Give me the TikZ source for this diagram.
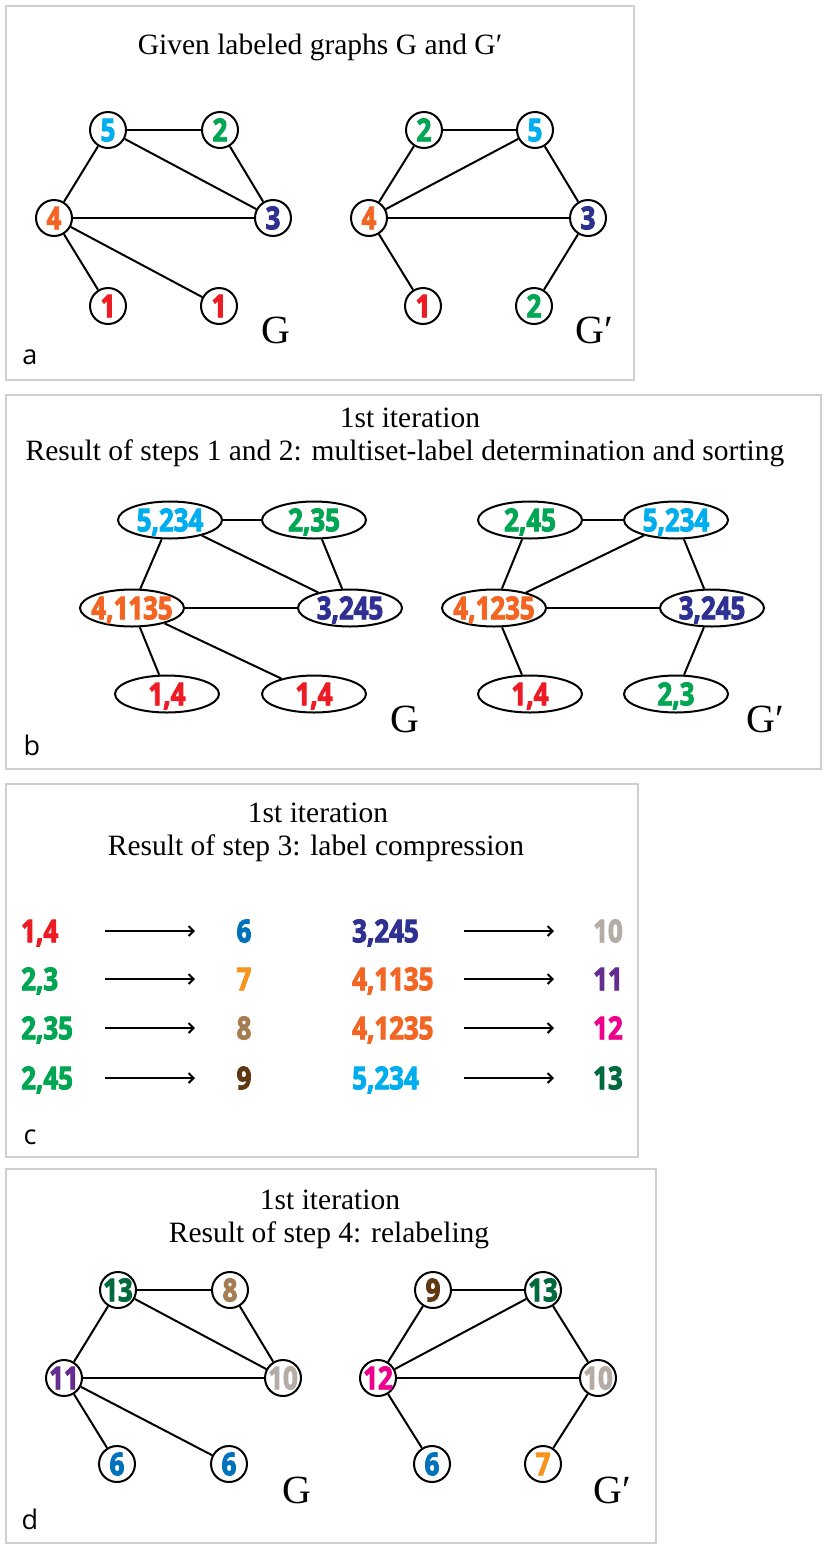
\documentclass[tikz,border=0pt]{standalone}
\usepackage{fontspec}
\setmainfont{Liberation Serif}
\newfontfamily\numf[FakeStretch=0.82,FakeBold=3]{Open Sans}
\newfontfamily\panelf{Open Sans}
\usetikzlibrary{shapes.geometric,arrows.meta}
\definecolor{framegray}{HTML}{CFCFCF}
\definecolor{cA}{HTML}{ED1C24}
\definecolor{cB}{HTML}{00A651}
\definecolor{cC}{HTML}{2E3192}
\definecolor{cD}{HTML}{F26522}
\definecolor{cE}{HTML}{00AEEF}
\definecolor{cF}{HTML}{0072BC}
\definecolor{cG}{HTML}{F7941D}
\definecolor{cH}{HTML}{A67C52}
\definecolor{cI}{HTML}{603913}
\definecolor{cJ}{HTML}{B5ADA5}
\definecolor{cK}{HTML}{662D91}
\definecolor{cL}{HTML}{EC008C}
\definecolor{cM}{HTML}{00693E}
\tikzset{
  frame/.style={draw=framegray, line width=2pt},
  ttl/.style={font=\fontsize{29.5}{34}\selectfont, inner sep=0},
  glabel/.style={font=\fontsize{40}{46}\selectfont, inner sep=0},
  plabel/.style={font=\panelf\fontsize{27}{30}\selectfont, inner sep=0},
  vtx/.style={circle, draw, line width=2pt, minimum size=36pt, inner sep=0},
  evtx/.style={ellipse, draw, line width=2pt, minimum width=104pt, minimum height=37pt, inner sep=0},
  num/.style={font=\numf\bfseries\fontsize{31.5}{36}\selectfont, inner sep=0, text height=22.5pt, text depth=0pt},
  edge/.style={line width=2pt},
  arr/.style={line width=2pt, -{Straight Barb[length=5pt,width=10pt,line width=2pt]}},
}
\begin{document}
\begin{tikzpicture}[x=1pt,y=-1pt]
\useasboundingbox (0,0) rectangle (828,1553);
\fill[white] (0,0) rectangle (828,1553);
% ---------- panel a ----------
\draw[frame] (6,6) rectangle (634,380);
\node[ttl] (ta) at (320,47) {Given labeled graphs G and G′};
\node[vtx, label={[num,text=cE]center:5}] (a5) at (108,130) {};
\node[vtx, label={[num,text=cB]center:2}] (a2) at (220,130) {};
\node[vtx, label={[num,text=cD]center:4}] (a4) at (54,218) {};
\node[vtx, label={[num,text=cC]center:3}] (a3) at (273,218) {};
\node[vtx, label={[num,text=cA]center:1}] (a1) at (108,306) {};
\node[vtx, label={[num,text=cA]center:1}] (a1b) at (219,306) {};
\draw[edge] (a5) -- (a2); \draw[edge] (a5) -- (a4); \draw[edge] (a5) -- (a3);
\draw[edge] (a2) -- (a3); \draw[edge] (a4) -- (a3); \draw[edge] (a4) -- (a1);
\draw[edge] (a4) -- (a1b);
\node[glabel] (aG) at (276,330) {G};
\node[vtx, label={[num,text=cB]center:2}] (p2) at (424,130) {};
\node[vtx, label={[num,text=cE]center:5}] (p5) at (535,130) {};
\node[vtx, label={[num,text=cD]center:4}] (p4) at (369,218) {};
\node[vtx, label={[num,text=cC]center:3}] (p3) at (588,218) {};
\node[vtx, label={[num,text=cA]center:1}] (p1) at (423,306) {};
\node[vtx, label={[num,text=cB]center:2}] (p2b) at (534,306) {};
\draw[edge] (p2) -- (p5); \draw[edge] (p2) -- (p4); \draw[edge] (p5) -- (p4);
\draw[edge] (p5) -- (p3); \draw[edge] (p4) -- (p3); \draw[edge] (p4) -- (p1);
\draw[edge] (p3) -- (p2b);
\node[glabel] (aGp) at (594,330) {G′};
\node[plabel] (la) at (30,357) {a};
% ---------- panel b ----------
\draw[frame] (6,395) rectangle (821,769);
\node[ttl] (tb1) at (410,418) {1st iteration};
\node[ttl] (tb2) at (405,453) {Result of steps 1 and 2: multiset-label determination and sorting};
\node[evtx, label={[num,text=cE]center:5,234}] (b5) at (170,520) {};
\node[evtx, label={[num,text=cB]center:2,35}] (b2) at (314,520) {};
\node[evtx, label={[num,text=cD]center:4,1135}] (b4) at (132,608) {};
\node[evtx, label={[num,text=cC]center:3,245}] (b3) at (350,608) {};
\node[evtx, label={[num,text=cA]center:1,4}] (b1) at (167,694) {};
\node[evtx, label={[num,text=cA]center:1,4}] (b1b) at (314,694) {};
\draw[edge] (b5) -- (b2); \draw[edge] (b5) -- (b4); \draw[edge] (b5) -- (b3);
\draw[edge] (b2) -- (b3); \draw[edge] (b4) -- (b3); \draw[edge] (b4) -- (b1);
\draw[edge] (b4) -- (b1b);
\node[glabel] (bG) at (405,719) {G};
\node[evtx, label={[num,text=cB]center:2,45}] (q2) at (530,520) {};
\node[evtx, label={[num,text=cE]center:5,234}] (q5) at (676,520) {};
\node[evtx, label={[num,text=cD]center:4,1235}] (q4) at (494,608) {};
\node[evtx, label={[num,text=cC]center:3,245}] (q3) at (712,608) {};
\node[evtx, label={[num,text=cA]center:1,4}] (q1) at (530,694) {};
\node[evtx, label={[num,text=cB]center:2,3}] (q2b) at (676,694) {};
\draw[edge] (q2) -- (q5); \draw[edge] (q2) -- (q4); \draw[edge] (q5) -- (q4);
\draw[edge] (q5) -- (q3); \draw[edge] (q4) -- (q3); \draw[edge] (q4) -- (q1);
\draw[edge] (q3) -- (q2b);
\node[glabel] (bGp) at (765,719) {G′};
\node[plabel] (lb) at (32,745) {b};
% ---------- panel c ----------
\draw[frame] (6,784) rectangle (638,1157);
\node[ttl] (tc1) at (318,813) {1st iteration};
\node[ttl] (tc2) at (316,848) {Result of step 3: label compression};
\foreach \yy/\lt/\lc/\mt/\mc/\rt/\rc/\vt/\vc/\k in {
  931/{1,4}/cA/6/cF/{3,245}/cC/10/cJ/1,
  979/{2,3}/cB/7/cG/{4,1135}/cD/11/cK/2,
  1028/{2,35}/cB/8/cH/{4,1235}/cD/12/cL/3,
  1078/{2,45}/cB/9/cI/{5,234}/cE/13/cM/4}{
  \node[num, text=\lc, anchor=west] (cl\k) at (21,\yy) {\lt};
  \coordinate (cas\k) at (105,\yy);
  \coordinate (cae\k) at (195,\yy);
  \draw[arr] (cas\k) -- (cae\k);
  \node[num, text=\mc] (cm\k) at (244,\yy) {\mt};
  \node[num, text=\rc, anchor=west] (cr\k) at (352,\yy) {\rt};
  \coordinate (cbs\k) at (464,\yy);
  \coordinate (cbe\k) at (554,\yy);
  \draw[arr] (cbs\k) -- (cbe\k);
  \node[num, text=\vc] (cv\k) at (608,\yy) {\vt};
}
\node[plabel] (lc) at (30,1137) {c};
% ---------- panel d ----------
\draw[frame] (6,1169) rectangle (656,1543);
\node[ttl] (td1) at (330,1200) {1st iteration};
\node[ttl] (td2) at (329,1235) {Result of step 4: relabeling};
\node[vtx, label={[num,text=cM]center:13}] (d13) at (118,1290) {};
\node[vtx, label={[num,text=cH]center:8}] (d8) at (230,1290) {};
\node[vtx, label={[num,text=cK]center:11}] (d11) at (64,1378) {};
\node[vtx, label={[num,text=cJ]center:10}] (d10) at (283,1378) {};
\node[vtx, label={[num,text=cF]center:6}] (d6) at (117,1464) {};
\node[vtx, label={[num,text=cF]center:6}] (d6b) at (229,1464) {};
\draw[edge] (d13) -- (d8); \draw[edge] (d13) -- (d11); \draw[edge] (d13) -- (d10);
\draw[edge] (d8) -- (d10); \draw[edge] (d11) -- (d10); \draw[edge] (d11) -- (d6);
\draw[edge] (d11) -- (d6b);
\node[glabel] (dG) at (297,1490) {G};
\node[vtx, label={[num,text=cI]center:9}] (e9) at (433,1290) {};
\node[vtx, label={[num,text=cM]center:13}] (e13) at (543,1290) {};
\node[vtx, label={[num,text=cL]center:12}] (e12) at (378,1378) {};
\node[vtx, label={[num,text=cJ]center:10}] (e10) at (598,1378) {};
\node[vtx, label={[num,text=cF]center:6}] (e6) at (432,1464) {};
\node[vtx, label={[num,text=cG]center:7}] (e7) at (543,1464) {};
\draw[edge] (e9) -- (e13); \draw[edge] (e9) -- (e12); \draw[edge] (e13) -- (e12);
\draw[edge] (e13) -- (e10); \draw[edge] (e12) -- (e10); \draw[edge] (e12) -- (e6);
\draw[edge] (e10) -- (e7);
\node[glabel] (dGp) at (612,1490) {G′};
\node[plabel] (ld) at (30,1519) {d};
\end{tikzpicture}
\end{document}
